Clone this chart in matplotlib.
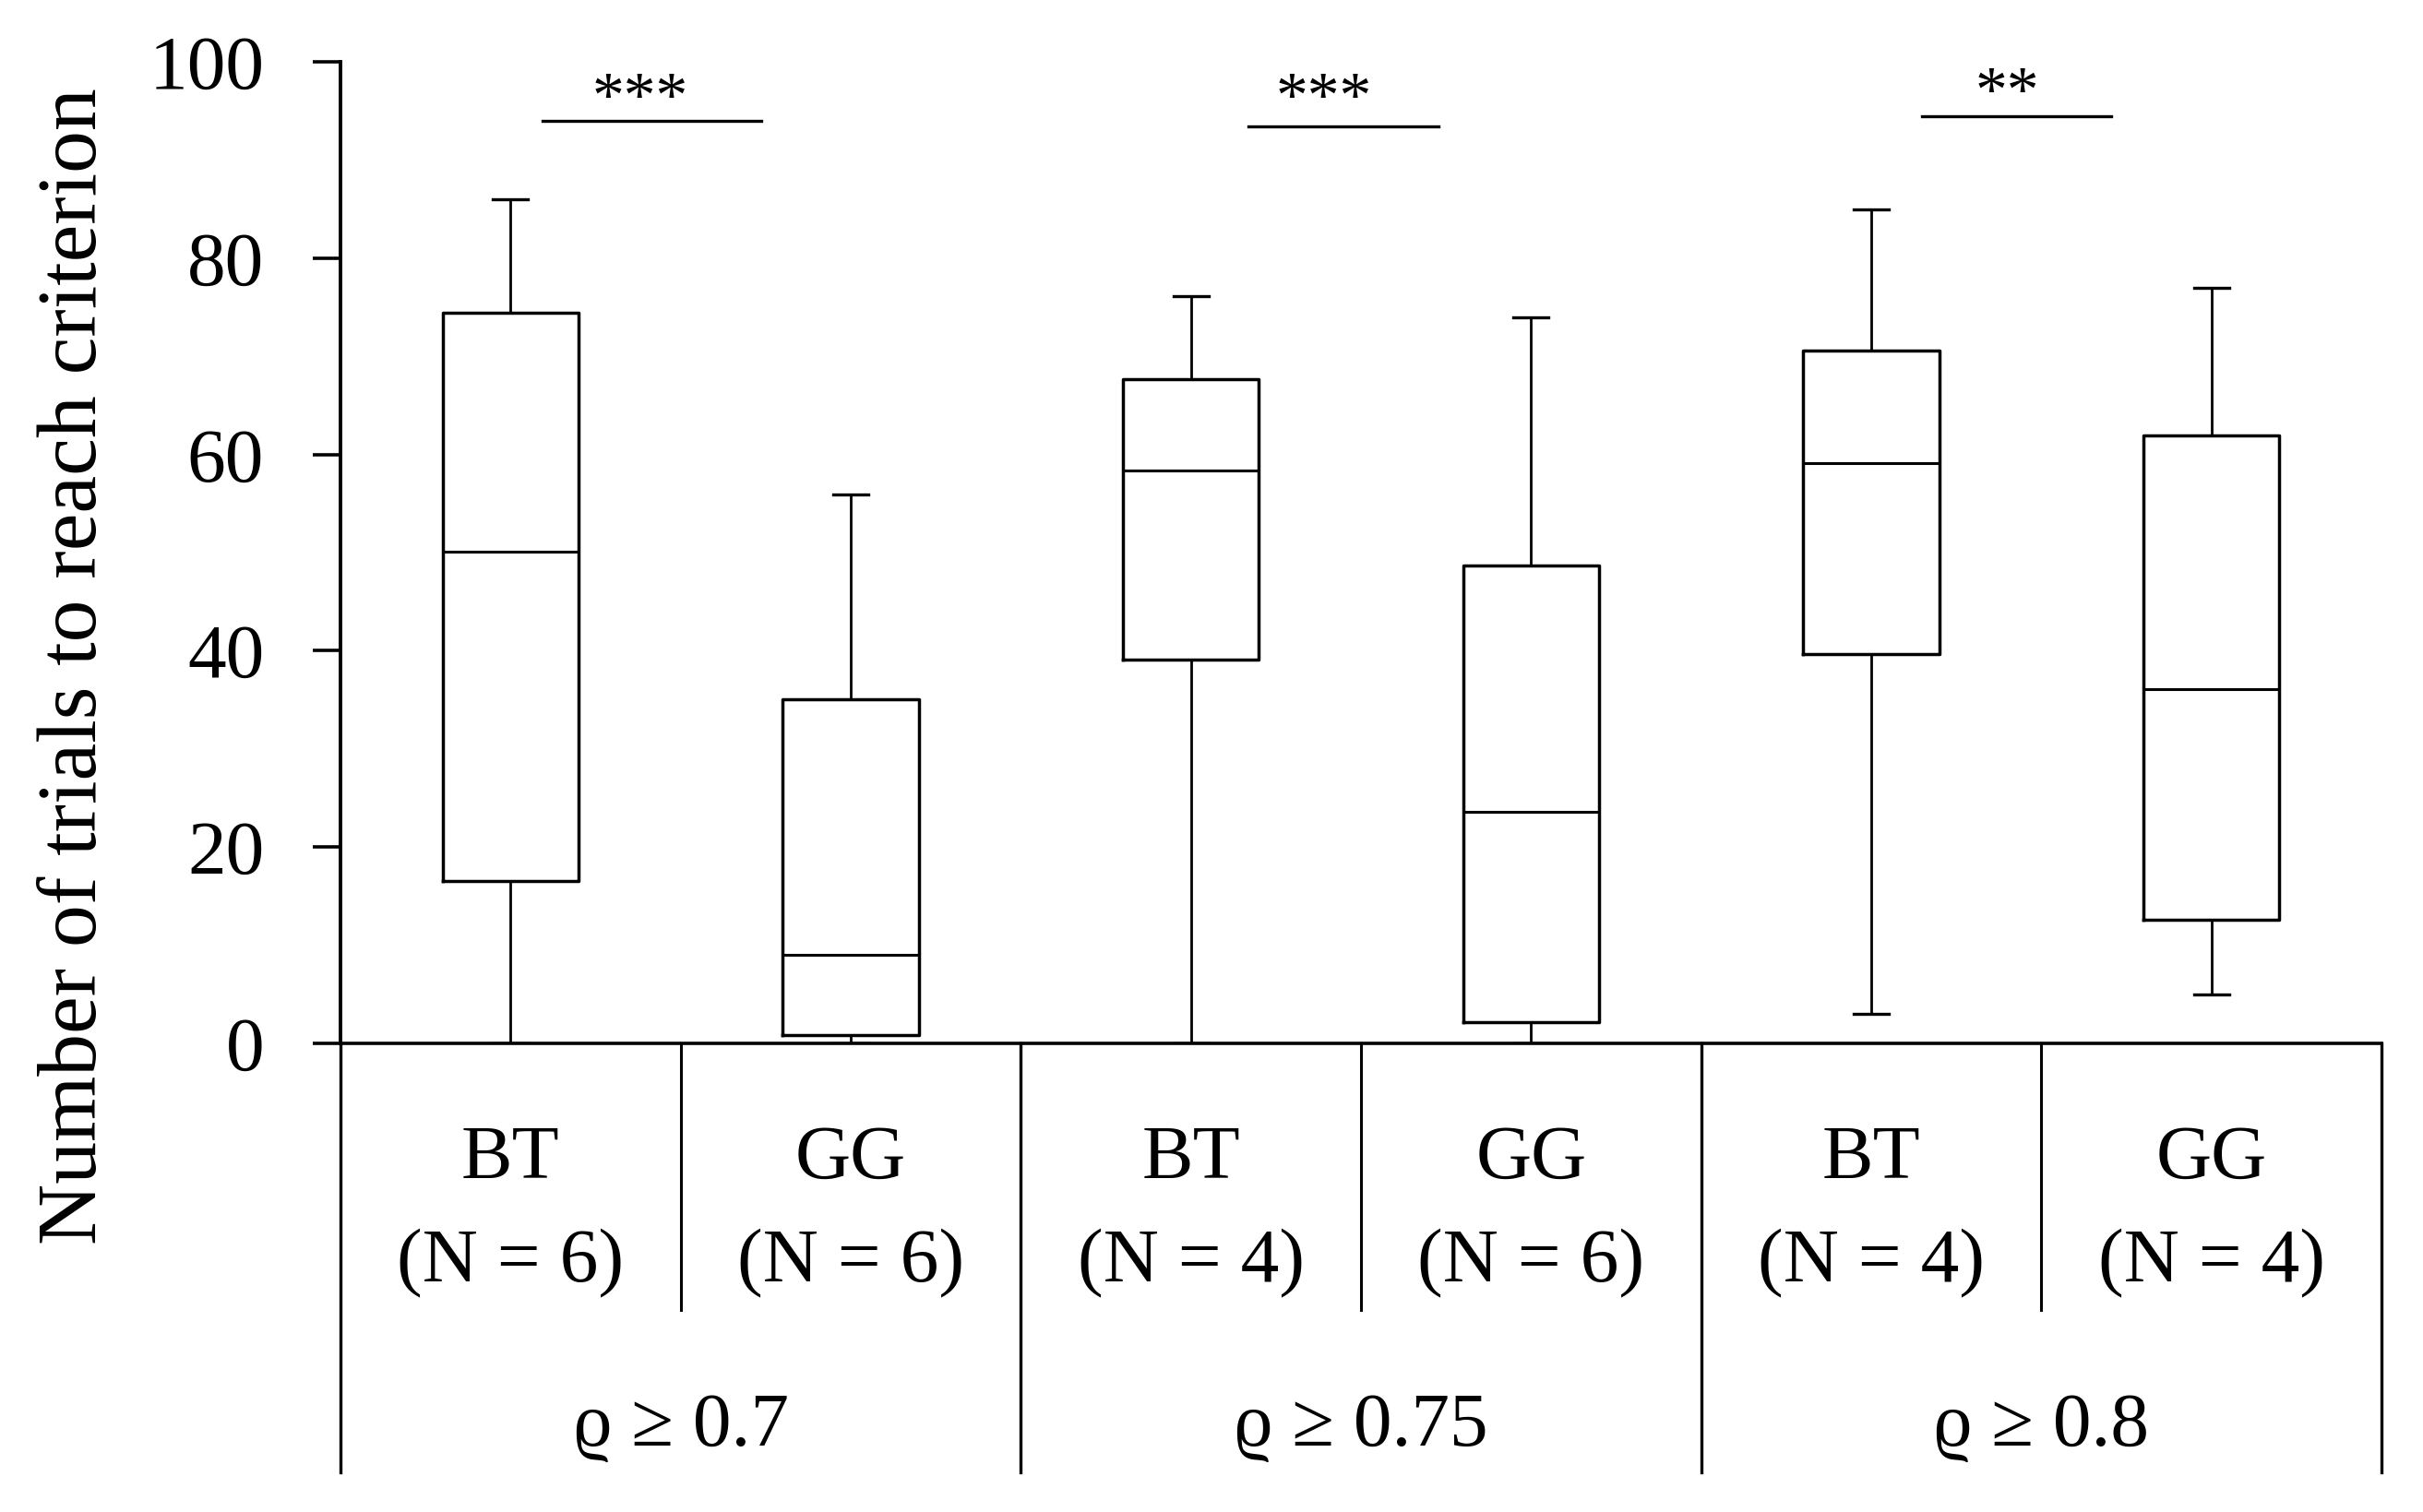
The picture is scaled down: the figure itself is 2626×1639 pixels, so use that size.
import matplotlib
matplotlib.use("Agg")
import matplotlib.pyplot as plt

plt.rcParams['font.family'] = ['Liberation Serif', 'DejaVu Serif']

# categories / labels
thresholds = ["ϱ ≥ 0.7", "ϱ ≥ 0.75", "ϱ ≥ 0.8"]
methods = ["BT", "GG", "BT", "GG", "BT", "GG"]
n_values = [6, 6, 4, 6, 4, 4]

# box plot summary values
whislo = [0.0, 0.0, 0.0, 0.0, 3.0, 5.0]
q1 = [16.5, 0.8, 39.1, 2.2, 39.7, 12.6]
med = [50.1, 9.0, 58.4, 23.6, 59.1, 36.1]
q3 = [74.4, 35.1, 67.7, 48.7, 70.6, 61.9]
whishi = [86.0, 55.9, 76.1, 74.0, 85.0, 77.0]

# significance markers
sig_labels = ["***", "***", "**"]
sig_level = [94.0, 93.4, 94.5]
sig_start = [0.094, 2.168, 4.148]
sig_end = [0.736, 2.729, 4.706]
star_x = [0.38, 2.39, 4.40]
star_y = [94.5, 94.5, 95.0]

yticks = [0, 20, 40, 60, 80, 100]

fig = plt.figure(figsize=(26.26, 16.39), dpi=100)
ax = fig.add_axes([0.14052, 0.30995, 0.98287 - 0.14052, 0.95912 - 0.30995])

stats = []
for i in range(len(methods)):
    stats.append({"whislo": whislo[i], "q1": q1[i], "med": med[i],
                  "q3": q3[i], "whishi": whishi[i], "fliers": []})

positions = list(range(len(methods)))
ax.bxp(stats, positions=positions, widths=0.4, capwidths=0.103,
       showfliers=False, patch_artist=False,
       boxprops=dict(color="black", linewidth=2.5),
       medianprops=dict(color="black", linewidth=2.2),
       whiskerprops=dict(color="black", linewidth=2.0),
       capprops=dict(color="black", linewidth=2.4))

ax.set_xlim(-0.5, 5.5)
ax.set_ylim(0, 100)
ax.set_yticks(yticks)
ax.set_yticklabels([str(t) for t in yticks])
ax.tick_params(axis="y", direction="out", length=21.6, width=2.6,
               labelsize=60, pad=38)
ax.tick_params(axis="x", bottom=False, labelbottom=False)
ax.spines["top"].set_visible(False)
ax.spines["right"].set_visible(False)
ax.spines["left"].set_linewidth(2.8)
ax.spines["bottom"].set_linewidth(2.6)

# significance bars
for i in range(len(sig_labels)):
    ax.plot([sig_start[i], sig_end[i]], [sig_level[i], sig_level[i]],
            color="black", linewidth=2.4, clip_on=False)
    ax.text(star_x[i], star_y[i], sig_labels[i], ha="center", va="baseline",
            fontsize=50)

# category table below the axis
for x in [-0.5, 1.5, 3.5, 5.5]:
    ax.plot([x, x], [0, -43.7], color="black", linewidth=2.4, clip_on=False)
for x in [0.5, 2.5, 4.5]:
    ax.plot([x, x], [0, -27.2], color="black", linewidth=2.2, clip_on=False)

for i in range(len(methods)):
    ax.text(positions[i], -13.7, methods[i], ha="center", va="baseline",
            fontsize=60, clip_on=False)
    ax.text(positions[i], -24.3, "(N = %d)" % n_values[i], ha="center",
            va="baseline", fontsize=60, clip_on=False)

for j in range(len(thresholds)):
    ax.text(2 * j + 0.5, -41.0, thresholds[j], ha="center", va="baseline",
            fontsize=60, clip_on=False)

fig.text(0.031, 0.5595, "Number of trials to reach criterion", rotation=90,
         ha="center", va="center", fontsize=66)

fig.savefig("out.png", dpi=100)
